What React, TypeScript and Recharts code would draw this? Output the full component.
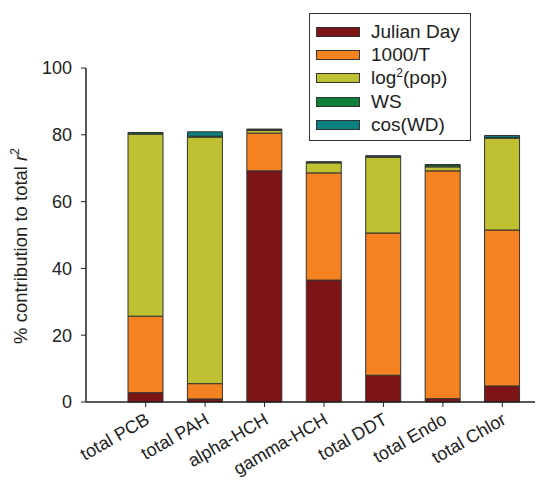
import React from "react"
import { Bar, BarChart, XAxis, YAxis } from "recharts"

const sites = ["total PCB", "total PAH", "alpha-HCH", "gamma-HCH", "total DDT", "total Endo", "total Chlor"]
const julianDay = [2.8, 0.9, 69.2, 36.5, 8.0, 1.0, 4.8]
const invTemp = [22.9, 4.6, 11.3, 32.1, 42.6, 68.2, 46.7]
const logPop = [54.5, 73.8, 0.8, 3.0, 22.7, 1.2, 27.5]
const windSpeed = [0.4, 0.3, 0.3, 0.2, 0.3, 0.6, 0.2]
const cosWD = [0.1, 1.3, 0.1, 0.1, 0.1, 0.1, 0.6]
const yTicks = [0, 20, 40, 60, 80, 100]

const series = [
  { key: "jd", name: "Julian Day", color: "#7d1416", values: julianDay },
  { key: "t", name: "1000/T", color: "#f58220", values: invTemp },
  { key: "pop", name: "log2(pop)", color: "#bfc132", values: logPop },
  { key: "ws", name: "WS", color: "#0f7f3b", values: windSpeed },
  { key: "wd", name: "cos(WD)", color: "#0b8080", values: cosWD },
]

const data = sites.map((name, i) => {
  const row: Record<string, string | number> = { name }
  series.forEach((s) => (row[s.key] = s.values[i]))
  return row
})

const font = "'Liberation Sans', Arial, sans-serif"

function XTick(props: any) {
  const { x, y, payload } = props
  const ax = x + 5
  const ay = y + 14
  return (
    <text
      x={ax}
      y={ay}
      textAnchor="end"
      fontSize={18}
      fontFamily={font}
      fill="#222"
      transform={`rotate(-30, ${ax}, ${ay})`}
    >
      {payload.value}
    </text>
  )
}

function YLabel() {
  return (
    <text
      x={27}
      y={246}
      textAnchor="middle"
      fontSize={18.5}
      fontFamily={font}
      fill="#222"
      transform="rotate(-90, 27, 246)"
    >
      % contribution to total <tspan fontStyle="italic">r</tspan>
      <tspan dy={-8} fontSize={12}>2</tspan>
    </text>
  )
}

function LegendBox() {
  return (
    <div
      style={{
        position: "absolute",
        left: 309,
        top: 13,
        border: "1px solid #333",
        background: "#fff",
        width: 162,
        height: 128,
        boxSizing: "border-box",
        padding: "6px 0 0 6px",
        fontFamily: font,
        fontSize: 19,
        color: "#222",
      }}
    >
      {series.map((s) => (
        <div key={s.key} style={{ display: "flex", alignItems: "center", height: 23.3 }}>
          <span
            style={{
              display: "inline-block",
              width: 42,
              height: 8,
              background: s.color,
              border: "1px solid #333",
              marginRight: 11,
            }}
          />
          {s.key === "pop" ? (
            <span>
              log<sup style={{ fontSize: 12, lineHeight: 0 }}>2</sup>(pop)
            </span>
          ) : (
            <span>{s.name}</span>
          )}
        </div>
      ))}
    </div>
  )
}

export default function App() {
  return (
    <div style={{ position: "absolute", left: 0, top: 0, width: 560, height: 481 }}>
      <BarChart
        width={560}
        height={481}
        data={data}
        margin={{ top: 68, right: 25, bottom: 0, left: 0 }}
        barSize={35}
      >
        <XAxis
          dataKey="name"
          height={79}
          padding={{ left: 30, right: 3 }}
          tick={<XTick />}
          tickSize={5}
          axisLine={{ stroke: "#222", strokeWidth: 1.5 }}
          tickLine={{ stroke: "#222" }}
          interval={0}
        />
        <YAxis
          width={86}
          domain={[0, 100]}
          ticks={yTicks}
          tickSize={5}
          tickMargin={9}
          axisLine={{ stroke: "#222", strokeWidth: 1.5 }}
          tickLine={{ stroke: "#222" }}
          tick={{ fontSize: 18, fontFamily: font, fill: "#222" }}
          label={<YLabel />}
        />
        {series.map((s) => (
          <Bar
            key={s.key}
            dataKey={s.key}
            name={s.name}
            stackId="a"
            fill={s.color}
            stroke="#333"
            strokeWidth={1}
            isAnimationActive={false}
          />
        ))}
      </BarChart>
      <LegendBox />
    </div>
  )
}
